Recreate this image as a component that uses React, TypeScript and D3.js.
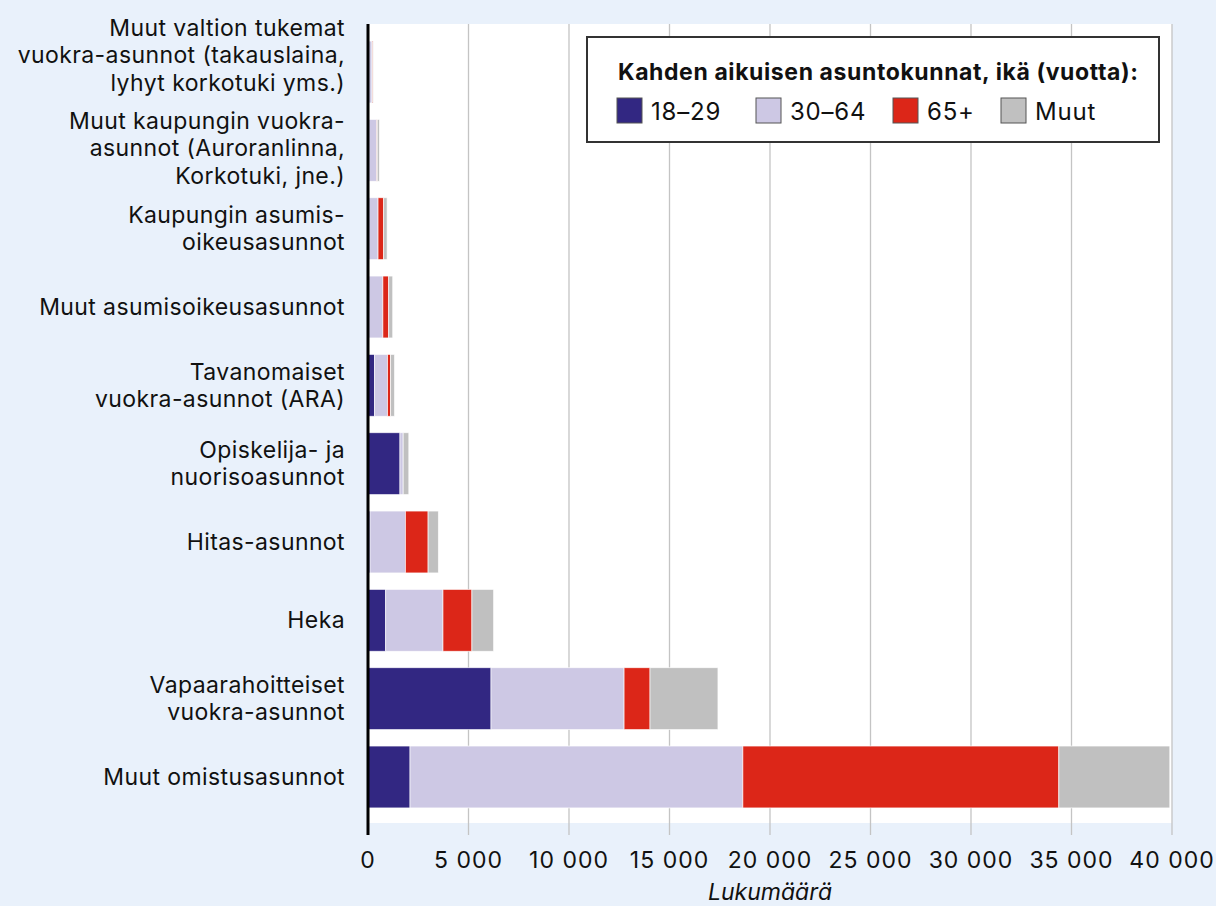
import React from "react";
import * as d3 from "d3";

const categories: string[][] = [
  ["Muut valtion tukemat", "vuokra-asunnot (takauslaina,", "lyhyt korkotuki yms.)"],
  ["Muut kaupungin vuokra-", "asunnot (Auroranlinna,", "Korkotuki, jne.)"],
  ["Kaupungin asumis-", "oikeusasunnot"],
  ["Muut asumisoikeusasunnot"],
  ["Tavanomaiset", "vuokra-asunnot (ARA)"],
  ["Opiskelija- ja", "nuorisoasunnot"],
  ["Hitas-asunnot"],
  ["Heka"],
  ["Vapaarahoitteiset", "vuokra-asunnot"],
  ["Muut omistusasunnot"],
];

const age18_29 = [30, 20, 10, 10, 330, 1590, 100, 880, 6120, 2090];
const age30_64 = [170, 420, 490, 730, 640, 160, 1760, 2850, 6620, 16560];
const age65 = [40, 20, 280, 290, 150, 0, 1130, 1440, 1290, 15720];
const muut = [20, 110, 170, 200, 200, 280, 510, 1080, 3380, 5520];

const seriesNames = ["18–29", "30–64", "65+", "Muut"];
const seriesColors = ["#322782", "#cdc8e4", "#dc2618", "#c0c0c0"];
const xTicks = [0, 5000, 10000, 15000, 20000, 25000, 30000, 35000, 40000];
const legendTitle = "Kahden aikuisen asuntokunnat, ikä (vuotta):";
const xTitle = "Lukumäärä";

const W = 1216;
const H = 906;
const FONT = "Inter, Roboto, sans-serif";

export default function App() {
  const x = d3.scaleLinear().domain([0, 40000]).range([368, 1172]);
  const ids = categories.map((_, i) => String(i));
  const y = d3
    .scaleBand<string>()
    .domain(ids)
    .range([32.85, 816.15])
    .paddingInner(0.21)
    .paddingOuter(0.105);

  const rows = categories.map((_, i) => ({
    id: String(i),
    s0: age18_29[i],
    s1: age30_64[i],
    s2: age65[i],
    s3: muut[i],
  }));
  const keys = ["s0", "s1", "s2", "s3"];
  const stacked = d3.stack<any>().keys(keys)(rows);

  const fmt = (v: number) => (v === 0 ? "0" : d3.format(",")(v).replace(/,/g, " "));

  const plotTop = 24;
  const plotBottom = 823;
  const tickBottom = 835;

  const legendX = 587;
  const legendY = 37;
  const legendW = 572;
  const legendH = 105;
  const legendItemX = [617, 756, 893, 1001];
  // label block vertical nudges (the top label is lifted to fit above the plot)
  const labelNudge = (i: number) => (i === 0 ? -17 : i === 1 ? -2 : 0);

  return (
    <svg width={W} height={H} style={{ display: "block", position: "absolute", left: 0, top: 0 }} fontFamily={FONT}>
      <rect x={0} y={0} width={W} height={H} fill="#e9f1fb" />
      <rect x={x(0)} y={plotTop} width={x(40000) - x(0)} height={plotBottom - plotTop} fill="#ffffff" />
      {xTicks.map((t) => (
        <g key={t}>
          {t > 0 && (
            <line x1={x(t)} x2={x(t)} y1={plotTop} y2={tickBottom} stroke="#c4c4c4" strokeWidth={1.3} />
          )}
          <text x={x(t)} y={868} textAnchor="middle" fontSize={23} letterSpacing={1} fill="#111">
            {fmt(t)}
          </text>
        </g>
      ))}
      {stacked.map((layer, si) => (
        <g key={si} fill={seriesColors[si]}>
          {layer.map((d: any, i: number) => {
            const w = x(d[1]) - x(d[0]);
            if (w <= 0) return null;
            return (
              <rect
                key={i}
                x={x(d[0])}
                y={y(ids[i])}
                width={w}
                height={y.bandwidth()}
                stroke="#ffffff"
                strokeWidth={0.8}
                strokeOpacity={0.8}
              />
            );
          })}
        </g>
      ))}
      <line x1={x(0)} x2={x(0)} y1={plotTop} y2={tickBottom} stroke="#000" strokeWidth={3} />
      {categories.map((lines, i) => {
        const cy = (y(ids[i]) as number) + y.bandwidth() / 2 + labelNudge(i);
        const lh = 27.5;
        const start = cy - ((lines.length - 1) * lh) / 2;
        return (
          <text key={i} x={345} textAnchor="end" fontSize={23} letterSpacing={0.4} fill="#111">
            {lines.map((l, j) => (
              <tspan key={j} x={345} y={start + j * lh} dy="0.35em">
                {l}
              </tspan>
            ))}
          </text>
        );
      })}
      <text x={x(20000)} y={900} textAnchor="middle" fontSize={23} fontStyle="italic" fill="#111">
        {xTitle}
      </text>
      <rect x={legendX} y={legendY} width={legendW} height={legendH} fill="#ffffff" stroke="#333" strokeWidth={2} />
      <text x={618} y={80} fontSize={23} fontWeight="bold" letterSpacing={0.6} fill="#111">
        {legendTitle}
      </text>
      {seriesNames.map((n, i) => (
        <g key={n}>
          <rect x={legendItemX[i]} y={98} width={25} height={25} fill={seriesColors[i]} stroke="#555" strokeWidth={1} />
          <text x={legendItemX[i] + 34} y={120} fontSize={24} letterSpacing={0.8} fill="#111">
            {n}
          </text>
        </g>
      ))}
    </svg>
  );
}
